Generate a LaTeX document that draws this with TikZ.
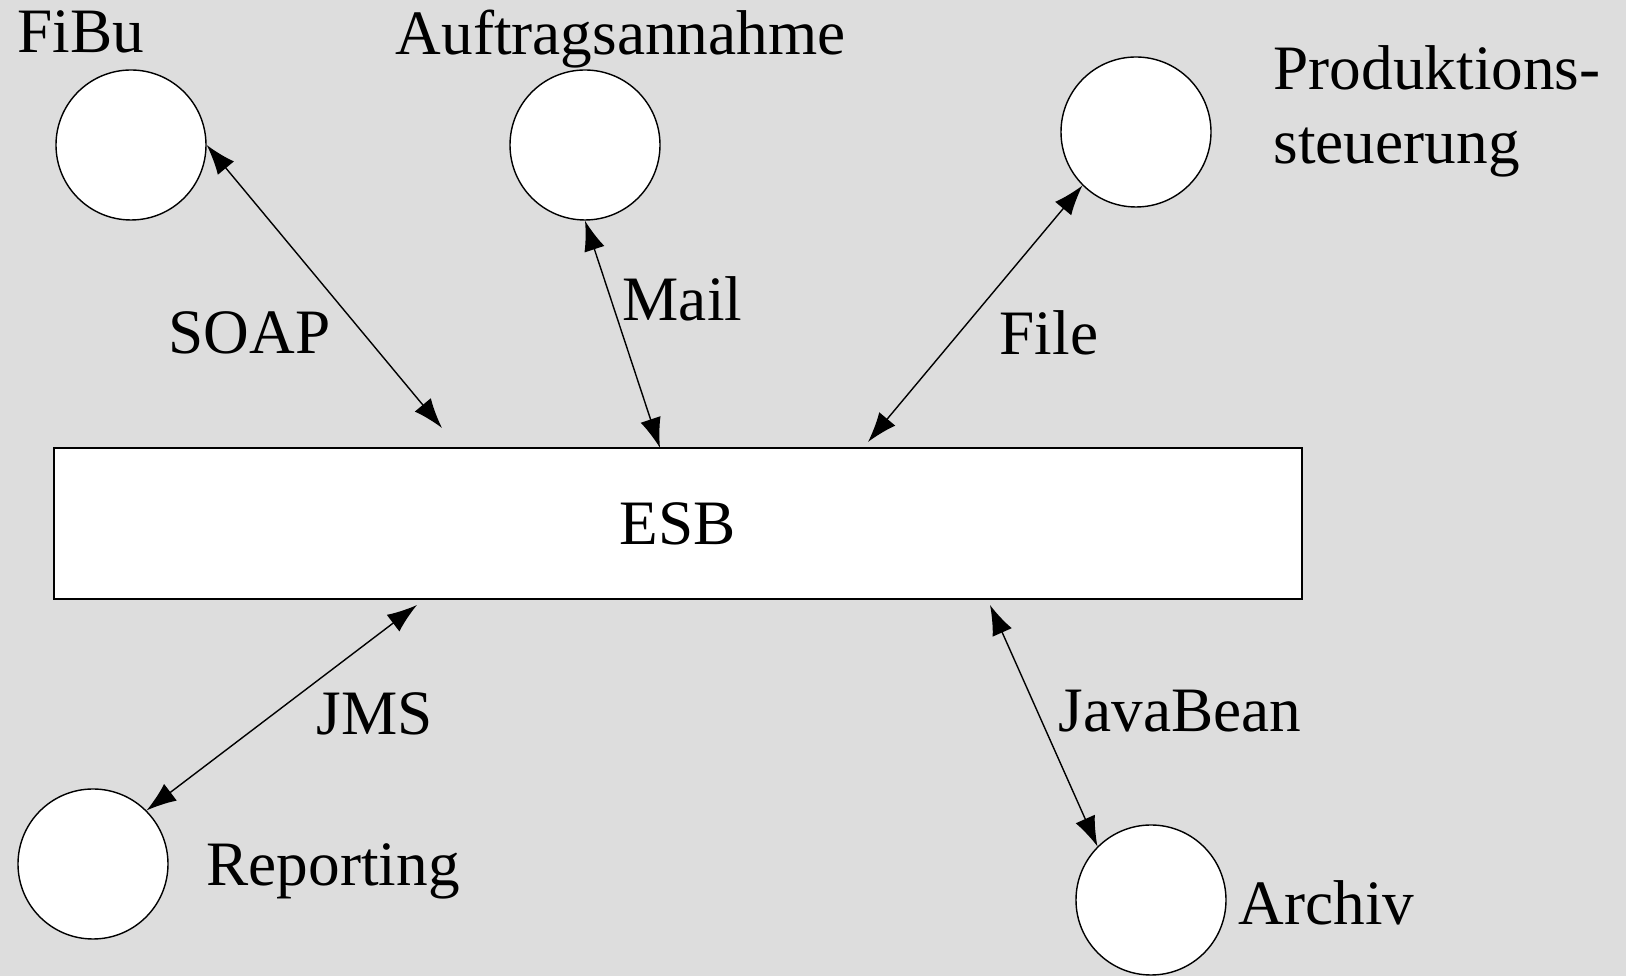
\documentclass[tikz,border=0pt]{standalone}
\usepackage{fontspec}
\setmainfont{Liberation Serif}
\usetikzlibrary{arrows.meta}
\definecolor{bggray}{RGB}{221,221,221}
\begin{document}
\begin{tikzpicture}[x=0.1mm,y=-0.1mm,
  sys/.style={circle,draw,fill=white,minimum size=15mm,inner sep=0pt},
  lbl/.style={anchor=base west,inner sep=0pt,font=\fontsize{18}{22}\selectfont},
  link/.style={{Latex[length=3mm,width=2.1mm]}-{Latex[length=3mm,width=2.1mm]}}]
\fill[bggray] (0,0) rectangle (1626,976);
\useasboundingbox (0,0) rectangle (1626,976);
% bus
\node[draw,fill=white,minimum width=124.8mm,minimum height=15.1mm,inner sep=0pt,
  font=\fontsize{18}{22}\selectfont] (esb) at (678,523.5) {ESB};
% systems
\node[sys] (fibu) at (131,145) {};
\node[sys] (auftrag) at (585,145) {};
\node[sys] (prod) at (1136,132) {};
\node[sys] (report) at (93,864) {};
\node[sys] (archiv) at (1151,900) {};
\node[lbl] (fibutxt) at (17,53) {FiBu};
\node[lbl] (auftragtxt) at (395,55) {Auftragsannahme};
\node[lbl] (prodtxta) at (1273,90) {Produktions-};
\node[lbl] (prodtxtb) at (1273,164) {steuerung};
\node[lbl] (reporttxt) at (206,886) {Reporting};
\node[lbl] (archivtxt) at (1238,925) {Archiv};
% ends on the bus
\coordinate (e1) at (442,428);
\coordinate (e2) at (660,448);
\coordinate (e3) at (868,442);
\coordinate (e4) at (417,605);
\coordinate (e5) at (990,605);
% links
\draw[link] (fibu.east) -- (e1);
\draw[link] (auftrag.south) -- (e2);
\draw[link] (prod.south west) -- (e3);
\draw[link] (e4) -- (report.north east);
\draw[link] (e5) -- (archiv.north west);
\node[lbl] (soap) at (168,354) {SOAP};
\node[lbl] (mail) at (622,321) {Mail};
\node[lbl] (file) at (999,355) {File};
\node[lbl] (jms) at (316,735) {JMS};
\node[lbl] (bean) at (1058,732) {JavaBean};
\end{tikzpicture}
\end{document}
